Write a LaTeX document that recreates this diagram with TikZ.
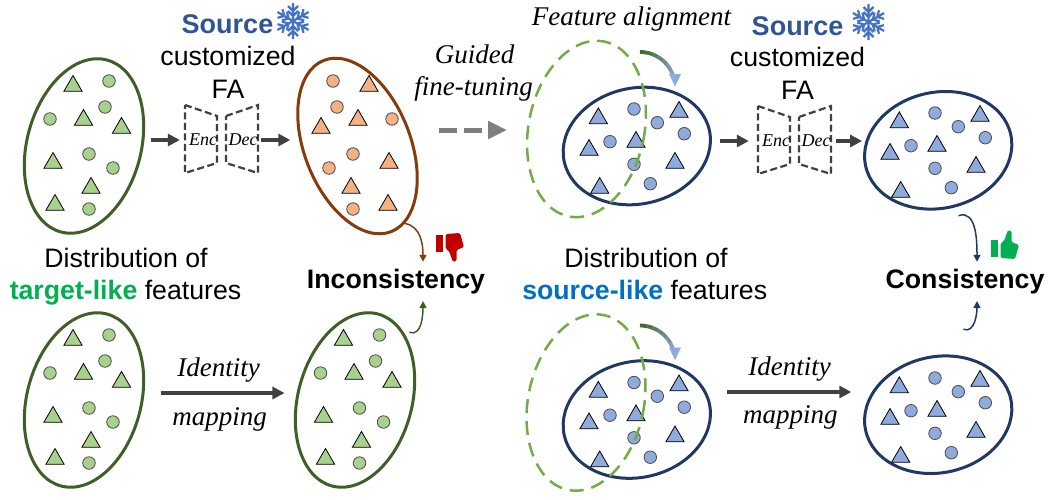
\documentclass[tikz,border=0pt]{standalone}
\usepackage{fontspec}
\setmainfont{Liberation Sans}
\newfontfamily\timesfont{Liberation Serif}
\usetikzlibrary{arrows.meta, shapes.geometric}

\definecolor{ovalgreen}{HTML}{3F5F28}
\definecolor{ovalbrown}{HTML}{843C0C}
\definecolor{ovalnavy}{HTML}{1F3864}
\definecolor{fillgreen}{HTML}{A9D18E}
\definecolor{fillorange}{HTML}{F4B183}
\definecolor{fillblue}{HTML}{8FAADC}
\definecolor{dashgreen}{HTML}{70AD47}
\definecolor{arrowgray}{HTML}{404040}
\definecolor{tunegray}{HTML}{7F7F7F}
\definecolor{sourceblue}{HTML}{2F5597}
\definecolor{flakeblue}{HTML}{4472C4}
\definecolor{targetgreen}{HTML}{00B050}
\definecolor{likeblue}{HTML}{0070C0}
\definecolor{thumbred}{HTML}{C00000}

\tikzset{oval/.style = {shape=ellipse,draw,line width=3pt,inner sep=0,minimum width=#1}}
\tikzset{tri/.style = {shape=regular polygon,regular polygon sides=3,draw=black,line width=0.8pt,inner sep=0,minimum size=21pt}}
\tikzset{dot/.style = {shape=circle,draw=black!70,line width=0.8pt,inner sep=0,minimum size=12.5pt}}
\tikzset{fatarrow/.style = {draw=arrowgray,line width=3.4pt,-{Triangle[length=12pt,width=12pt]}}}
\tikzset{thinarrow/.style = {line width=1.5pt,-{Triangle[length=7pt,width=7pt]}}}
\tikzset{dashbox/.style = {draw=arrowgray,line width=2.2pt,dash pattern=on 7pt off 3.5pt}}
\tikzset{plain/.style = {font=\fontsize{26.7}{30}\selectfont,anchor=base,inner sep=0}}
\tikzset{strong/.style = {font=\fontsize{26.7}{30}\selectfont\bfseries,anchor=base,inner sep=7pt}}
\tikzset{slant/.style = {font=\fontsize{27}{30}\selectfont\timesfont\itshape,anchor=base,inner sep=0}}
\tikzset{coder/.style = {font=\fontsize{18}{20}\selectfont\timesfont\itshape,inner sep=0}}
\tikzset{flake/.pic = {
  \foreach \a in {0,60,...,300} {
    \draw[flakeblue,line width=2.2pt,rotate=\a] (0,0) -- (0,18) (-5,15) -- (0,10) -- (5,15) (-5,10) -- (0,5) -- (5,10);
  }
}}
\tikzset{thumb/.pic = {
  \path[pic actions] (0,2) rectangle (7,19);
  \path[pic actions,rounded corners=1.5pt] (9.7,1) -- (24,0) -- (28,14) -- (20.5,17) -- (20.5,28) -- (17,29) -- (13,18) -- (9.7,16) -- cycle;
}}

% marker positions of one cluster
\def\greentris{73/86,83.5/120,121.5/128,53/163,91/188,55/205}
\def\greendots{109/81,105/107,50/119,89/154,113/168,89/209}
\def\orangetris{369/86,358/120,321/128,389/163,351/188,388/205}
\def\orangedots{333/81,337/107,392/119,353/154,329/168,353/209}
\def\bluetris{598.3/118.4,679/112,589/150,636/142,675/163,599.7/188}
\def\bluedots{634/109,657.3/122.7,684.3/133.7,610/141.7,634/164.3,650.3/183.7}

\begin{document}
\begin{tikzpicture}[x=1pt,y=-1pt]
\useasboundingbox (0,0) rectangle (1051,499);

%ovals
\node[oval=114pt, minimum height=178pt, rotate=-15, draw=ovalgreen] (ovalA) at (84,146) {};
\node[oval=106pt, minimum height=184pt, rotate=21.5, draw=ovalbrown] (ovalB) at (357.5,146) {};
\node[oval=148.5pt, minimum height=116pt, rotate=12, draw=ovalnavy] (ovalC) at (636.8,146) {};
\node[oval=148.5pt, minimum height=116pt, rotate=12, draw=ovalnavy] (ovalD) at (938.2,150.3) {};
\node[oval=114pt, minimum height=178pt, rotate=-15, draw=ovalgreen] (ovalE) at (84,400) {};
\node[oval=114pt, minimum height=178pt, rotate=-15, draw=ovalgreen] (ovalF) at (355,400) {};
\node[oval=148.5pt, minimum height=116pt, rotate=12, draw=ovalnavy] (ovalG) at (636.8,419.5) {};
\node[oval=148.5pt, minimum height=116pt, rotate=12, draw=ovalnavy] (ovalH) at (938.2,414.7) {};

%markers
\foreach \k/\dx/\dy in {a/0/0, e/0/254, f/270.5/254} {
  \foreach \x/\y [count=\i] in \greentris \node[tri, fill=fillgreen] (t\k\i) at (\x+\dx,\y+\dy) {};
  \foreach \x/\y [count=\i] in \greendots \node[dot, fill=fillgreen] (d\k\i) at (\x+\dx,\y+\dy) {};
}
\foreach \x/\y [count=\i] in \orangetris \node[tri, fill=fillorange] (tb\i) at (\x,\y) {};
\foreach \x/\y [count=\i] in \orangedots \node[dot, fill=fillorange] (db\i) at (\x,\y) {};
\foreach \k/\dx/\dy in {c/0/0, d/301/4, g/0/273.5, h/301/269} {
  \foreach \x/\y [count=\i] in \bluetris \node[tri, fill=fillblue] (t\k\i) at (\x+\dx,\y+\dy) {};
  \foreach \x/\y [count=\i] in \bluedots \node[dot, fill=fillblue] (d\k\i) at (\x+\dx,\y+\dy) {};
}

%dashed ovals
\node[shape=ellipse, draw=dashgreen, line width=2.5pt, dash pattern=on 14pt off 8pt, inner sep=0, minimum width=115.8pt, minimum height=178.4pt, rotate=-11.5] (alignC) at (586.5,129) {};
\node[shape=ellipse, draw=dashgreen, line width=2.5pt, dash pattern=on 14pt off 8pt, inner sep=0, minimum width=115.8pt, minimum height=178.4pt, rotate=-11.5] (alignG) at (586,402.5) {};

%alignment arcs
\foreach \cx/\cy in {640/87, 640/360.5} {
  \foreach \a in {-90,-80,...,-30} {
    \pgfmathsetmacro\p{-(\a+20)*100/70}
    \draw[line width=3.8pt, color=dashgreen!60!black!\p!fillblue] ([shift={(\a:35)}]\cx,\cy) arc[start angle=\a, delta angle=10.5, radius=35];
  }
  \draw[line width=3.8pt, fillblue, -{Triangle[length=13pt,width=11pt]}] ([shift={(-20:35)}]\cx,\cy) arc[start angle=-20, delta angle=20, radius=35];
}

%encoder and decoder
\foreach \k/\dx/\dy in {a/0/0, b/573/1} {
  \begin{scope}[shift={(\dx,\dy)}]
    \draw[dashbox] (185,105) -- (217,116) -- (217,163) -- (185,173) -- cycle;
    \draw[dashbox] (226,116) -- (258,105) -- (258,173) -- (226,163) -- cycle;
    \node[coder, minimum width=28pt] (enc\k) at (203,140) {Enc};
    \node[coder, minimum width=29pt] (dec\k) at (243,140) {Dec};
  \end{scope}
}

%labels
\node[plain, font=\fontsize{27}{30}\selectfont\bfseries, text=sourceblue] (srcA) at (227.5,33) {Source};
\pic at (293,21) {flake};
\node[plain] (faA) at (228,65) {customized};
\node[plain] (fanameA) at (228,98) {FA};
\node[plain, font=\fontsize{27}{30}\selectfont\bfseries, text=sourceblue] (srcB) at (797.5,35) {Source};
\pic at (868.5,22) {flake};
\node[plain] (faB) at (797.5,66.5) {customized};
\node[plain] (fanameB) at (797.5,99) {FA};
\node[slant] (align) at (631.5,25) {Feature alignment};
\node[slant] (guided) at (474.5,63) {Guided};
\node[slant] (tuning) at (473.5,95) {fine-tuning};
\node[plain] (distA) at (126,267.3) {Distribution of};
\node[plain] (likeA) at (125.5,299.3) {\textcolor{targetgreen}{\bfseries target-like} features};
\node[plain] (distB) at (646,267.3) {Distribution of};
\node[plain] (likeB) at (644.7,299.3) {\textcolor{likeblue}{\bfseries source-like} features};
\node[strong] (incons) at (396,288.3) {Inconsistency};
\node[strong] (cons) at (965,288.3) {Consistency};
\node[slant] (idA) at (218.7,376.7) {Identity};
\node[slant] (mapA) at (219.7,425) {mapping};
\node[slant] (idB) at (789.6,375) {Identity};
\node[slant] (mapB) at (790.4,423) {mapping};
\pic[fill=thumbred] at (436,233) {thumb};
\pic[fill=targetgreen, yscale=-1] at (991,259) {thumb};

%edges
\coordinate (tuneL) at (439,130);
\coordinate (tuneR) at (507,130);
\coordinate (midA) at (220,393);
\coordinate (midB) at (790,392);
\coordinate (consIn) at (958.5,215.7);
\coordinate (consOut) at (963.4,329.3);
\coordinate (inconsOut) at (409.3,332.3);
\draw[fatarrow] ([xshift=10pt]ovalA.east |- enca.west) -- ([xshift=-9pt]enca.west);
\draw[fatarrow] ([xshift=3.5pt]deca.east) -- ([xshift=-16.5pt]ovalB.west |- deca.east);
\draw[fatarrow] ([xshift=9pt]ovalC.east |- encb.west) -- ([xshift=-13pt]encb.west);
\draw[fatarrow] ([xshift=5pt]decb.east) -- ([xshift=-2pt]ovalD.west |- decb.east);
\draw[fatarrow] ([xshift=20pt]ovalE.east |- midA) -- ([xshift=-14pt]ovalF.west |- midA);
\draw[fatarrow] ([xshift=16pt]ovalG.east |- midB) -- ([xshift=-12.8pt]ovalH.west |- midB);
\draw[draw=tunegray, line width=5pt, dash pattern=on 18pt off 6.5pt, -{Triangle[length=19pt,width=17pt,fill=tunegray]}] (tuneL) -- (tuneR);
\draw[thinarrow, ovalbrown] (ovalB.-80) to[out=-10, in=90] ([xshift=27pt]incons.north);
\draw[thinarrow, ovalgreen] (inconsOut) to[out=-20, in=-90] ([xshift=27pt]incons.south);
\draw[thinarrow, ovalnavy] (consIn) to[out=20, in=90] ([xshift=12pt]cons.north);
\draw[thinarrow, ovalnavy] (consOut) to[out=-20, in=-90] ([xshift=12pt]cons.south);

\end{tikzpicture}
\end{document}
